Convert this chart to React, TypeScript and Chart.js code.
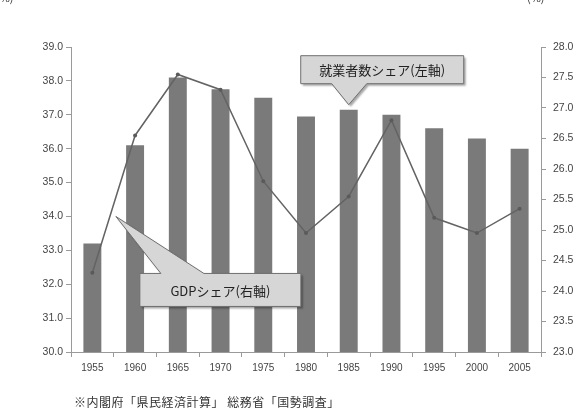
import React, { useEffect, useRef } from "react";
import { Chart, registerables } from "chart.js";

Chart.register(...registerables);

const years = ["1955", "1960", "1965", "1970", "1975", "1980", "1985", "1990", "1995", "2000", "2005"];
const employmentShare = [33.2, 36.1, 38.1, 37.75, 37.5, 36.95, 37.15, 37.0, 36.6, 36.3, 36.0];
const gdpShare = [24.3, 26.55, 27.55, 27.3, 25.8, 24.95, 25.55, 26.8, 25.2, 24.95, 25.35];
const leftAxis = { min: 30, max: 39, step: 1 };
const rightAxis = { min: 23, max: 28, step: 0.5 };
const employmentLabel = "就業者数シェア(左軸)";
const gdpLabel = "GDPシェア(右軸)";
const footnote = "※内閣府「県民経済計算」 総務省「国勢調査」";
const unitLabel = "(%)";

const JP_FONT = '"Noto Sans CJK JP", "Noto Sans", sans-serif';
const NUM_FONT = '"Liberation Sans", Arial, sans-serif';

function drawCallout(
  ctx: CanvasRenderingContext2D,
  pts: [number, number][],
  text: string,
  cx: number,
  cy: number
) {
  ctx.save();
  ctx.shadowColor = "rgba(0,0,0,0.35)";
  ctx.shadowOffsetX = 2;
  ctx.shadowOffsetY = 2;
  ctx.shadowBlur = 2;
  ctx.beginPath();
  pts.forEach(([x, y], i) => (i === 0 ? ctx.moveTo(x, y) : ctx.lineTo(x, y)));
  ctx.closePath();
  ctx.fillStyle = "#d6d6d6";
  ctx.fill();
  ctx.shadowColor = "transparent";
  ctx.strokeStyle = "#6f6f6f";
  ctx.lineWidth = 1;
  ctx.stroke();
  ctx.fillStyle = "#222";
  ctx.font = `13px ${JP_FONT}`;
  ctx.textAlign = "center";
  ctx.textBaseline = "middle";
  ctx.fillText(text, cx, cy);
  ctx.restore();
}

const calloutPlugin = {
  id: "callouts",
  afterDraw(chart: any) {
    const ctx = chart.ctx as CanvasRenderingContext2D;
    const x = chart.scales.x;
    const y = chart.scales.y;
    const i1 = 6;
    const tx = x.getPixelForValue(i1);
    const ty = y.getPixelForValue(employmentShare[i1]) - 5;
    const l = tx - 48, r = tx + 115, t = ty - 49, b = ty - 21;
    drawCallout(
      ctx,
      [[l, t], [r, t], [r, b], [tx + 18, b], [tx, ty], [tx - 17, b], [l, b]],
      employmentLabel,
      (l + r) / 2,
      (t + b) / 2
    );
    const gx = x.getPixelForValue(0.55);
    const gy = y.getPixelForValue(34.0);
    const l2 = gx + 24, r2 = gx + 185, t2 = gy + 57, b2 = gy + 90;
    drawCallout(
      ctx,
      [[l2, t2], [gx + 45, t2], [gx, gy], [gx + 88, t2], [r2, t2], [r2, b2], [l2, b2]],
      gdpLabel,
      (l2 + r2) / 2,
      (t2 + b2) / 2 + 1
    );
  },
};

export default function App() {
  const ref = useRef<HTMLCanvasElement>(null);
  useEffect(() => {
    if (!ref.current) return;
    const axisColor = "#9a9a9a";
    const chart = new Chart(ref.current, {
      type: "bar",
      data: {
        labels: years,
        datasets: [
          {
            type: "line",
            label: gdpLabel,
            data: gdpShare,
            yAxisID: "y1",
            borderColor: "#636363",
            backgroundColor: "#5a5a5a",
            borderWidth: 1.5,
            pointRadius: 2,
            pointBorderWidth: 0,
            pointBackgroundColor: "#5a5a5a",
            tension: 0,
            order: 1,
          } as any,
          {
            type: "bar",
            label: employmentLabel,
            data: employmentShare,
            yAxisID: "y",
            backgroundColor: "#7a7a7a",
            borderWidth: 0,
            categoryPercentage: 1,
            barPercentage: 0.42,
            order: 2,
          },
        ],
      },
      options: {
        animation: false,
        responsive: true,
        maintainAspectRatio: false,
        layout: { padding: { top: 47, left: 0, right: 0, bottom: 0 } },
        plugins: { legend: { display: false }, tooltip: { enabled: false } },
        scales: {
          x: {
            offset: true,
            grid: { offset: true, drawOnChartArea: false, drawTicks: true, tickLength: 5, color: axisColor },
            border: { display: true, color: axisColor },
            ticks: { color: "#444", font: { family: NUM_FONT, size: 10 }, padding: 5, maxRotation: 0 },
            afterFit: (s: any) => { s.height = 58; },
          },
          y: {
            position: "left",
            min: leftAxis.min,
            max: leftAxis.max,
            grid: { drawOnChartArea: false, drawTicks: true, tickLength: 5, color: axisColor },
            border: { display: true, color: axisColor },
            ticks: {
              stepSize: leftAxis.step,
              color: "#444",
              font: { family: NUM_FONT, size: 10.5 },
              padding: 3,
              callback: (v: any) => Number(v).toFixed(1),
            },
            afterFit: (s: any) => { s.width = 71; },
          },
          y1: {
            position: "right",
            min: rightAxis.min,
            max: rightAxis.max,
            grid: { drawOnChartArea: false, drawTicks: true, tickLength: 5, color: axisColor },
            border: { display: true, color: axisColor },
            ticks: {
              stepSize: rightAxis.step,
              color: "#444",
              font: { family: NUM_FONT, size: 10.5 },
              padding: 7,
              callback: (v: any) => Number(v).toFixed(1),
            },
            afterFit: (s: any) => { s.width = 41; },
          },
        },
      },
      plugins: [calloutPlugin],
    });
    return () => chart.destroy();
  }, []);

  return (
    <div style={{ position: "fixed", left: 0, top: 0, width: 582, height: 410, background: "#fff", overflow: "hidden" }}>
      <canvas ref={ref} />
      <div style={{ position: "absolute", left: -4, top: -11, fontSize: 11, color: "#333", fontFamily: JP_FONT }}>{unitLabel}</div>
      <div style={{ position: "absolute", left: 527, top: -11, fontSize: 11, color: "#333", fontFamily: JP_FONT }}>{unitLabel}</div>
      <div style={{ position: "absolute", left: 74, top: 394, fontSize: 12, letterSpacing: 0.5, color: "#333", fontFamily: JP_FONT, whiteSpace: "nowrap", lineHeight: "16px" }}>{footnote}</div>
    </div>
  );
}
